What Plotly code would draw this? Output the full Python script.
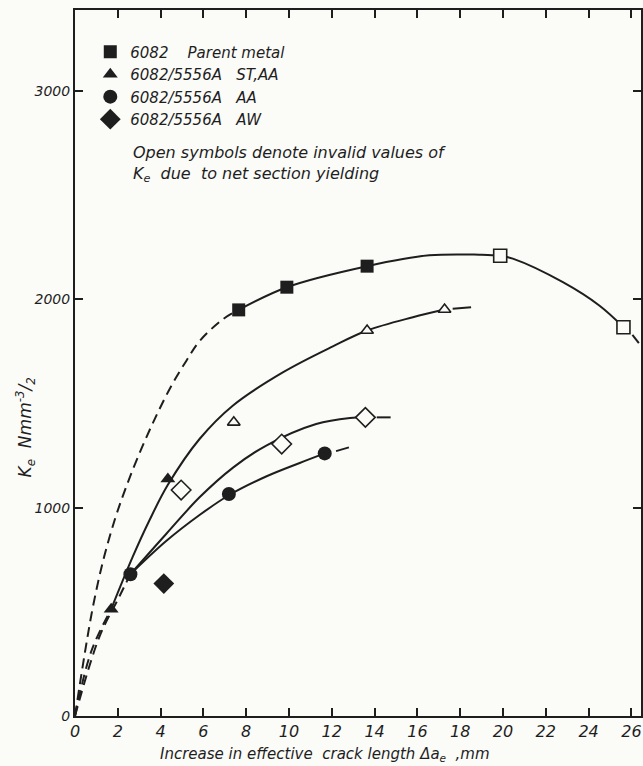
import plotly.graph_objects as go

# ---- measured points ----
parent_x = [7.65, 9.9, 13.65]
parent_y = [1950, 2059, 2160]
parent_open_x = [19.87, 25.63]
parent_open_y = [2210, 1867]

staa_x = [1.69, 4.34]
staa_y = [513, 1138]
staa_open_x = [7.42, 13.65, 17.27]
staa_open_y = [1410, 1851, 1952]

aa_x = [2.59, 7.19, 11.67]
aa_y = [681, 1066, 1261]

aw_x = [4.15]
aw_y = [636]
aw_open_x = [4.96, 9.66, 13.57]
aw_open_y = [1085, 1306, 1434]

# ---- fitted curves ----
parent_dash_x = [0, 0.44, 0.83, 1.3, 1.85, 2.39, 3.09, 3.79, 4.5, 5.2, 5.82, 6.91, 7.65]
parent_dash_y = [0, 290, 520, 740, 940, 1100, 1280, 1440, 1585, 1705, 1800, 1905, 1950]
parent_curve_x = [7.65, 9.9, 13.65, 16.56, 18.9, 19.87, 20.46, 22.8, 24.5, 25.63]
parent_curve_y = [1950, 2059, 2160, 2212, 2215, 2210, 2196, 2083, 1971, 1867]
parent_tail_x = [26.05, 26.35]
parent_tail_y = [1830, 1790]

staa_dash_x = [0, 0.76, 1.69]
staa_dash_y = [0, 310, 513]
staa_curve_x = [1.69, 2.7, 3.48, 4.34, 5.82, 7.37, 9.71, 12.05, 13.65, 15.79, 17.27]
staa_curve_y = [513, 765, 940, 1110, 1330, 1490, 1650, 1775, 1851, 1915, 1952]
staa_tail_x = [17.65, 18.51]
staa_tail_y = [1955, 1963]

aa_dash_x = [0, 1.14, 2.08, 2.59]
aa_dash_y = [0, 380, 575, 681]
aa_curve_x = [2.59, 4.26, 5.82, 7.19, 8.93, 10.5, 11.67]
aa_curve_y = [681, 840, 965, 1060, 1150, 1215, 1261]
aa_tail_x = [12.2, 12.8]
aa_tail_y = [1272, 1290]

aw_curve_x = [2.59, 4.26, 5.82, 7.4, 8.96, 11.27, 12.85, 13.57]
aw_curve_y = [681, 874, 1050, 1194, 1300, 1402, 1431, 1434]
aw_tail_x = [14.1, 14.75]
aw_tail_y = [1434, 1434]

x_ticks = list(range(0, 27, 2))
y_ticks = [0, 1000, 2000, 3000]

INK = "#1e1e1e"
BG = "#fbfbf8"
FONT = "DejaVu Sans"
NB = "\u00a0"

fig = go.Figure()

def line(x, y, dash="solid"):
    fig.add_trace(go.Scatter(x=x, y=y, mode="lines", line_shape="spline",
                             line=dict(color=INK, width=2, dash=dash),
                             showlegend=False, hoverinfo="skip"))

DASH = "10px,6px"
line(parent_dash_x, parent_dash_y, DASH)
line(parent_curve_x, parent_curve_y)
line(parent_tail_x, parent_tail_y)
line(staa_dash_x, staa_dash_y, DASH)
line(staa_curve_x, staa_curve_y)
line(staa_tail_x, staa_tail_y)
line(aa_dash_x, aa_dash_y, DASH)
line(aa_curve_x, aa_curve_y)
line(aa_tail_x, aa_tail_y)
line(aw_curve_x, aw_curve_y)
line(aw_tail_x, aw_tail_y)

def pts(x, y, symbol, size, name=None, filled=True):
    fig.add_trace(go.Scatter(
        x=x, y=y, mode="markers", name=name, showlegend=name is not None,
        marker=dict(symbol=symbol, size=size,
                    color=INK if filled else BG,
                    line=dict(color=INK, width=0 if filled else 1.6))))

pts(parent_x, parent_y, "square", 13, "6082" + NB * 4 + "Parent metal")
pts(staa_x, staa_y, "triangle-up", 13, "6082/5556A" + NB * 3 + "ST,AA")
pts(aa_x, aa_y, "circle", 14, "6082/5556A" + NB * 3 + "AA")
pts(aw_x, aw_y, "diamond", 16, "6082/5556A" + NB * 3 + "AW")
pts(parent_open_x, parent_open_y, "square", 13, filled=False)
pts(staa_open_x, staa_open_y, "triangle-up", 11, filled=False)
pts(aw_open_x, aw_open_y, "diamond", 15, filled=False)

ital = lambda s: dict(size=s, color=INK, family=FONT, style="italic")

fig.add_annotation(
    x=0.0985, y=0.7825, xref="paper", yref="paper", xanchor="left", yanchor="middle",
    align="left", showarrow=False,
    text="Open symbols denote invalid values of<br>K<sub>e</sub>" + NB + " due" + NB + " to net section yielding",
    font=ital(16))

fig.add_annotation(
    x=0.442, y=-0.055, xref="paper", yref="paper", xanchor="center", yanchor="middle",
    showarrow=False,
    text="Increase in effective" + NB + " crack length \u0394a<sub>e</sub>" + NB + " ,mm",
    font=ital(15))

fig.add_annotation(
    x=-0.088, y=0.409, xref="paper", yref="paper", xanchor="center", yanchor="middle",
    showarrow=False, textangle=-90,
    text="K<sub>e</sub>" + NB + " Nmm<sup>-3</sup>/<sub>2</sub>",
    font=ital(17))

axis_common = dict(showline=True, linecolor=INK, linewidth=2, mirror="ticks",
                   ticks="inside", ticklen=8, tickwidth=1.5, tickcolor=INK,
                   showgrid=False, zeroline=False, automargin=False,
                   tickfont=ital(16))

fig.update_xaxes(range=[0, 26.45], tickvals=x_ticks, **axis_common)
fig.update_yaxes(range=[0, 3390], tickvals=y_ticks, **axis_common)
fig.update_yaxes(tickfont=ital(14))

fig.update_layout(
    width=643, height=766,
    margin=dict(l=75, r=2, t=10, b=50, autoexpand=False),
    paper_bgcolor=BG, plot_bgcolor=BG,
    font=dict(family=FONT, color=INK, style="italic"),
    legend=dict(x=0.027, y=0.964, xanchor="left", yanchor="top",
                bgcolor="rgba(0,0,0,0)", borderwidth=0,
                font=ital(15), tracegroupgap=0, itemwidth=30),
)

fig.write_html("out.html", config={"displayModeBar": False},
               post_script="document.body.style.margin='0px';document.body.style.background='%s';" % BG)
